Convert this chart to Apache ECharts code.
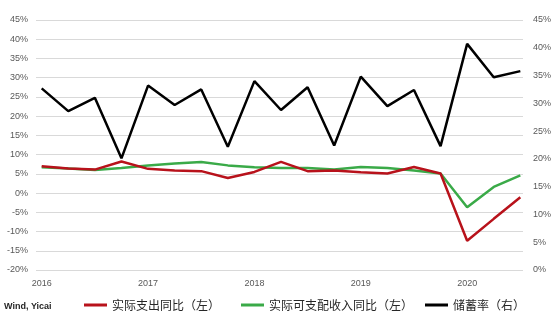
<!DOCTYPE html>
<html>
<head>
<meta charset="utf-8">
<script src="https://cdn.jsdelivr.net/npm/echarts@6/dist/echarts.min.js"></script>
<style>
  html, body { margin: 0; padding: 0; background: #fff; }
  #chart { width: 554px; height: 320px; }
</style>
</head>
<body>
<div id="chart"></div>
<script>
// quarterly points, 2016Q1 .. 2020Q3
const quarters = [
  '2016Q1', '2016Q2', '2016Q3', '2016Q4',
  '2017Q1', '2017Q2', '2017Q3', '2017Q4',
  '2018Q1', '2018Q2', '2018Q3', '2018Q4',
  '2019Q1', '2019Q2', '2019Q3', '2019Q4',
  '2020Q1', '2020Q2', '2020Q3'
];
const yearLabels = ['2016', '2017', '2018', '2019', '2020'];

// left axis, %
const spending = [7.0, 6.4, 6.1, 8.2, 6.3, 5.9, 5.7, 3.9, 5.5, 8.1, 5.7, 5.9, 5.4, 5.1, 6.8, 5.1, -12.4, -6.7, -1.1];
const income = [6.7, 6.4, 6.0, 6.5, 7.2, 7.7, 8.1, 7.2, 6.7, 6.5, 6.5, 6.1, 6.8, 6.5, 5.9, 5.1, -3.7, 1.6, 4.6];
// right axis, %
const savingRate = [32.7, 28.6, 31.0, 20.1, 33.2, 29.7, 32.5, 22.2, 34.0, 28.8, 32.9, 22.4, 34.8, 29.5, 32.4, 22.3, 40.7, 34.7, 35.8];

const leftTicks = { min: -20, max: 45, interval: 5 };
const rightTicks = { min: 0, max: 45, interval: 5 };

const NAME_SPEND = '实际支出同比（左）';
const NAME_INCOME = '实际可支配收入同比（左）';
const NAME_SAVING = '储蓄率（右）';

function toPoints(values) {
  return values.map((v, i) => [i, v]);
}

const labelStyle = { color: '#595959', fontSize: 9, fontFamily: 'Liberation Sans, Arial, sans-serif' };
const legendText = { color: '#262626', fontSize: 12, fontFamily: 'Noto Sans CJK SC, sans-serif' };

function legendAt(name, left) {
  return {
    data: [name],
    left: left,
    top: 299,
    icon: 'rect',
    itemWidth: 23,
    itemHeight: 3,
    padding: 0,
    textStyle: legendText,
    selectedMode: false
  };
}

const chart = echarts.init(document.getElementById('chart'), null, { renderer: 'canvas' });

chart.setOption({
  animation: false,
  backgroundColor: '#fff',
  grid: { left: 36, right: 31, top: 20, bottom: 50 },
  legend: [
    legendAt(NAME_SPEND, 84),
    legendAt(NAME_INCOME, 241),
    legendAt(NAME_SAVING, 425)
  ],
  graphic: [{
    type: 'text',
    left: 4,
    top: 302,
    style: {
      text: 'Wind, Yicai',
      fill: '#262626',
      font: 'bold 9px Liberation Sans, Arial, sans-serif'
    }
  }],
  xAxis: {
    type: 'value',
    min: -0.214,
    max: 18.1,
    axisLine: { show: false },
    axisTick: { show: false },
    splitLine: { show: false },
    axisLabel: {
      ...labelStyle,
      margin: 9,
      customValues: [0, 4, 8, 12, 16],
      formatter: (v) => yearLabels[Math.round(v / 4)] || ''
    }
  },
  yAxis: [{
    type: 'value',
    position: 'left',
    ...leftTicks,
    axisLine: { show: false },
    axisTick: { show: false },
    splitLine: { lineStyle: { color: '#d9d9d9', width: 1 } },
    axisLabel: { ...labelStyle, margin: 8, formatter: '{value}%' }
  }, {
    type: 'value',
    position: 'right',
    ...rightTicks,
    axisLine: { show: false },
    axisTick: { show: false },
    splitLine: { show: false },
    axisLabel: { ...labelStyle, margin: 10, formatter: '{value}%' }
  }],
  series: [{
    name: NAME_INCOME,
    type: 'line',
    yAxisIndex: 0,
    data: toPoints(income),
    showSymbol: false,
    color: '#3aaa48',
    lineStyle: { width: 2.5, color: '#3aaa48' }
  }, {
    name: NAME_SPEND,
    type: 'line',
    yAxisIndex: 0,
    data: toPoints(spending),
    showSymbol: false,
    color: '#b8121b',
    lineStyle: { width: 2.5, color: '#b8121b' }
  }, {
    name: NAME_SAVING,
    type: 'line',
    yAxisIndex: 1,
    data: toPoints(savingRate),
    showSymbol: false,
    color: '#000000',
    lineStyle: { width: 2.5, color: '#000000' }
  }]
});
</script>
</body>
</html>
